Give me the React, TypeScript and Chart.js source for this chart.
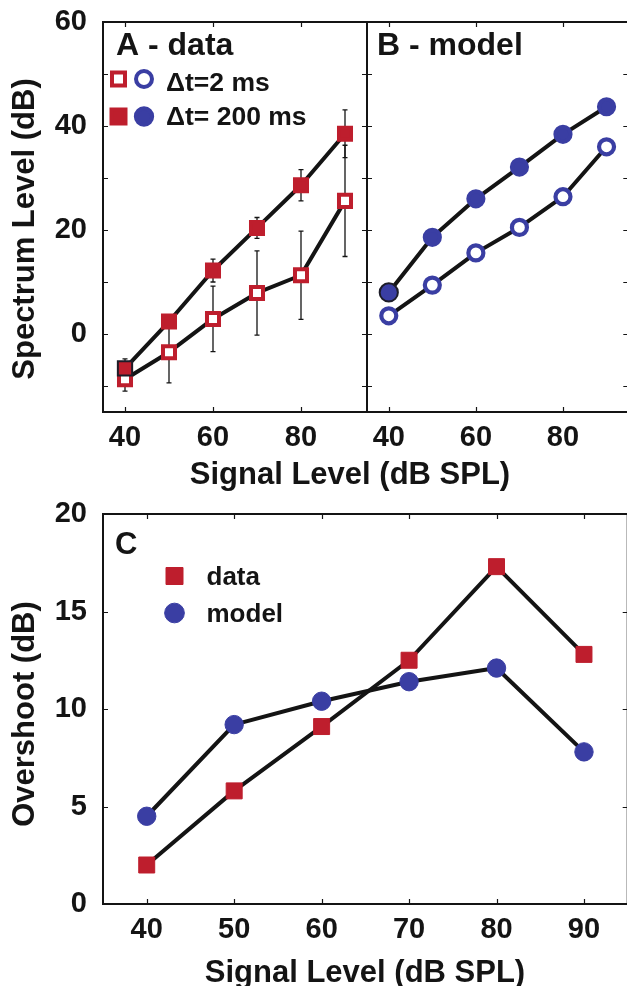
import React, { useEffect, useRef } from 'react';
import { Chart, registerables } from 'chart.js';

Chart.register(...registerables);

// Signal levels (dB SPL) shared by all panels
const levels = [40, 50, 60, 70, 80, 90];

// Panel A: measured spectrum level (dB) with error bars
const dataLong = [-6.6, 2.4, 12.2, 20.4, 28.6, 38.5]; // Δt = 200 ms
const dataLongErr = [1.8, 1.0, 2.2, 2.0, 3.0, 4.6];
const dataShort = [-8.7, -3.5, 2.9, 7.9, 11.3, 25.6]; // Δt = 2 ms
const dataShortErr = [2.3, 5.9, 6.3, 8.1, 8.5, 10.7];

// Panel B: model spectrum level (dB)
const modelLong = [8.0, 18.6, 26.0, 32.1, 38.4, 43.7]; // Δt = 200 ms
const modelShort = [3.5, 9.4, 15.6, 20.5, 26.4, 36.0]; // Δt = 2 ms

// Panel C: overshoot (dB)
const overshootData = [2.0, 5.8, 9.1, 12.5, 17.3, 12.8];
const overshootModel = [4.5, 9.2, 10.4, 11.4, 12.1, 7.8];

// Tick labels and tick marks
const abXLabels = [40, 60, 80];
const abXMarks = [40, 60, 80];
const abYLabels = [0, 20, 40, 60];
const abYMarks = [-10, 0, 10, 20, 30, 40, 50, 60];
const cXLabels = [40, 50, 60, 70, 80, 90];
const cYLabels = [0, 5, 10, 15, 20];

const FAMILY = '"Liberation Sans", Arial, Helvetica, sans-serif';
const INK = '#141414';
const RED = '#BE1E2D';
const BLUE = '#3A3EA3';
const font = (size: number) => `bold ${size}px ${FAMILY}`;

const pts = (ys: number[]) => levels.map((x, i) => ({ x, y: ys[i] }));

type Item =
  | { kind: 'text'; text: string; x: number; y: number; size: number; align?: CanvasTextAlign; rotate?: number }
  | { kind: 'marker'; shape: 'square' | 'circle'; x: number; y: number; size: number; fill: string; stroke: string; lineWidth: number };

// Draws free text and legend symbols on top of a chart
function annotations(items: Item[]) {
  return {
    id: 'annotations',
    afterDraw(chart: any) {
      const ctx: CanvasRenderingContext2D = chart.ctx;
      for (const it of items) {
        ctx.save();
        if (it.kind === 'text') {
          ctx.font = font(it.size);
          ctx.fillStyle = INK;
          ctx.textAlign = it.align || 'left';
          ctx.textBaseline = 'alphabetic';
          ctx.translate(it.x, it.y);
          if (it.rotate) ctx.rotate(it.rotate);
          ctx.fillText(it.text, 0, 0);
        } else {
          ctx.beginPath();
          if (it.shape === 'square') ctx.rect(it.x - it.size / 2, it.y - it.size / 2, it.size, it.size);
          else ctx.arc(it.x, it.y, it.size / 2, 0, Math.PI * 2);
          ctx.fillStyle = it.fill;
          ctx.fill();
          if (it.lineWidth) {
            ctx.lineWidth = it.lineWidth;
            ctx.strokeStyle = it.stroke;
            ctx.stroke();
          }
        }
        ctx.restore();
      }
    },
  };
}

// Box around the plot area with inward tick marks on all four sides
function frame(xMarks: number[], yMarks: number[]) {
  return {
    id: 'frame',
    beforeDatasetsDraw(chart: any) {
      const { ctx, chartArea, scales } = chart;
      const { left, right, top, bottom } = chartArea;
      const len = 5;
      ctx.save();
      ctx.strokeStyle = INK;
      ctx.lineWidth = 1.2;
      ctx.beginPath();
      for (const v of xMarks) {
        const px = Math.round(scales.x.getPixelForValue(v)) + 0.5;
        ctx.moveTo(px, bottom);
        ctx.lineTo(px, bottom - len);
        ctx.moveTo(px, top);
        ctx.lineTo(px, top + len);
      }
      for (const v of yMarks) {
        const py = Math.round(scales.y.getPixelForValue(v)) + 0.5;
        ctx.moveTo(left, py);
        ctx.lineTo(left + len, py);
        ctx.moveTo(right, py);
        ctx.lineTo(right - len, py);
      }
      ctx.stroke();
      ctx.lineWidth = 2;
      ctx.strokeRect(left, top, right - left, bottom - top);
      ctx.restore();
    },
  };
}

// Vertical error bars for datasets carrying an `errors` array
const errorBars = {
  id: 'errorBars',
  beforeDatasetsDraw(chart: any) {
    const { ctx, scales } = chart;
    const cap = 2.5;
    ctx.save();
    ctx.strokeStyle = INK;
    ctx.lineWidth = 1.3;
    chart.data.datasets.forEach((ds: any) => {
      if (!ds.errors) return;
      ds.data.forEach((p: { x: number; y: number }, i: number) => {
        const e = ds.errors[i];
        const px = scales.x.getPixelForValue(p.x);
        const y1 = scales.y.getPixelForValue(p.y + e);
        const y2 = scales.y.getPixelForValue(p.y - e);
        ctx.beginPath();
        ctx.moveTo(px, y1);
        ctx.lineTo(px, y2);
        ctx.moveTo(px - cap, y1);
        ctx.lineTo(px + cap, y1);
        ctx.moveTo(px - cap, y2);
        ctx.lineTo(px + cap, y2);
        ctx.stroke();
      });
    });
    ctx.restore();
  },
};

function axis(min: number, max: number, labels: number[], cross: number, horizontal: boolean, showLabels: boolean) {
  return {
    type: 'linear',
    position: horizontal ? 'bottom' : 'left',
    min,
    max,
    grid: { display: false, drawTicks: false },
    border: { display: false },
    ticks: {
      display: showLabels,
      padding: horizontal ? 9 : 16,
      color: INK,
      autoSkip: false,
      maxRotation: 0,
      font: { family: FAMILY, size: 29, weight: 'bold' },
    },
    afterBuildTicks: (s: any) => {
      s.ticks = labels.map((v) => ({ value: v }));
    },
    afterFit: (s: any) => {
      if (horizontal) s.height = cross;
      else s.width = cross;
      // the plot box is placed by the layout padding alone
      s.paddingTop = 0;
      s.paddingBottom = 0;
      s.paddingLeft = 0;
      s.paddingRight = 0;
    },
  };
}

function series(values: number[], color: string, filled: boolean, shape: 'rect' | 'circle', radius: number, ring: number, outlineFirst: boolean, errors?: number[]) {
  return {
    data: pts(values),
    errors,
    borderColor: INK,
    borderWidth: 4,
    borderJoinStyle: 'round',
    tension: 0,
    fill: false,
    pointStyle: shape,
    pointRadius: (c: any) => (outlineFirst && c.dataIndex === 0 ? radius + 1.6 : radius),
    pointBorderWidth: (c: any) => (outlineFirst && c.dataIndex === 0 ? 2 : ring),
    pointBackgroundColor: filled ? color : '#ffffff',
    pointBorderColor: (c: any) => (outlineFirst && c.dataIndex === 0 ? '#1c1c28' : color),
    clip: false,
  };
}

function baseOptions(scales: any, padding: any) {
  return {
    responsive: false,
    maintainAspectRatio: false,
    animation: false,
    events: [],
    layout: { padding },
    plugins: { legend: { display: false }, tooltip: { enabled: false } },
    scales,
  };
}

export default function App() {
  const aRef = useRef<HTMLCanvasElement>(null);
  const bRef = useRef<HTMLCanvasElement>(null);
  const cRef = useRef<HTMLCanvasElement>(null);

  useEffect(() => {
    const sqR = 8.5;
    const ciR = 7.5;

    const chartA = new Chart(aRef.current as HTMLCanvasElement, {
      type: 'line',
      data: {
        datasets: [
          series(dataLong, RED, true, 'rect', sqR, 4, true, dataLongErr),
          series(dataShort, RED, false, 'rect', sqR, 4, false, dataShortErr),
        ],
      } as any,
      options: baseOptions(
        { x: axis(35, 95, abXLabels, 83, true, true), y: axis(-15, 60, abYLabels, 103, false, true) },
        { left: 0, top: 22, right: 273, bottom: 0 }
      ) as any,
      plugins: [
        frame(abXMarks, abYMarks),
        errorBars,
        annotations([
          { kind: 'text', text: 'Spectrum Level (dB)', x: 33.5, y: 229, size: 31, align: 'center', rotate: -Math.PI / 2 },
          { kind: 'text', text: 'Signal Level (dB SPL)', x: 350, y: 484, size: 31, align: 'center' },
          { kind: 'text', text: 'A - data', x: 116, y: 55, size: 32 },
          { kind: 'marker', shape: 'square', x: 118.5, y: 79, size: 13, fill: '#ffffff', stroke: RED, lineWidth: 4 },
          { kind: 'marker', shape: 'circle', x: 144, y: 79, size: 16, fill: '#ffffff', stroke: BLUE, lineWidth: 4 },
          { kind: 'text', text: 'Δt=2 ms', x: 166, y: 90.5, size: 26.5 },
          { kind: 'marker', shape: 'square', x: 118.5, y: 116.5, size: 14, fill: RED, stroke: RED, lineWidth: 4 },
          { kind: 'marker', shape: 'circle', x: 144, y: 116.5, size: 16.3, fill: BLUE, stroke: BLUE, lineWidth: 4 },
          { kind: 'text', text: 'Δt= 200 ms', x: 166, y: 125, size: 26.5 },
        ]),
      ],
    });

    const chartB = new Chart(bRef.current as HTMLCanvasElement, {
      type: 'line',
      data: {
        datasets: [
          series(modelLong, BLUE, true, 'circle', ciR, 4.2, true),
          series(modelShort, BLUE, false, 'circle', ciR, 4.2, false),
        ],
      } as any,
      options: baseOptions(
        { x: axis(35, 95, abXLabels, 83, true, true), y: axis(-15, 60, [], 30, false, false) },
        { left: 0, top: 22, right: 9, bottom: 0 }
      ) as any,
      plugins: [
        frame(abXMarks, abYMarks),
        annotations([{ kind: 'text', text: 'B - model', x: 40, y: 55, size: 32 }]),
      ],
    });

    const chartC = new Chart(cRef.current as HTMLCanvasElement, {
      type: 'line',
      data: {
        datasets: [
          series(overshootData, RED, true, 'rect', 11.3, 1, false),
          series(overshootModel, BLUE, true, 'circle', 9.2, 1, false),
        ],
      } as any,
      options: baseOptions(
        { x: axis(35, 95, cXLabels, 82, true, true), y: axis(0, 20, cYLabels, 103, false, true) },
        { left: 0, top: 34, right: 9, bottom: 0 }
      ) as any,
      plugins: [
        frame(cXLabels, cYLabels),
        annotations([
          { kind: 'text', text: 'Overshoot (dB)', x: 33.5, y: 234, size: 31, align: 'center', rotate: -Math.PI / 2 },
          { kind: 'text', text: 'Signal Level (dB SPL)', x: 365, y: 502, size: 31, align: 'center' },
          { kind: 'text', text: 'C', x: 115, y: 74, size: 31 },
          { kind: 'marker', shape: 'square', x: 174.5, y: 96, size: 17, fill: RED, stroke: RED, lineWidth: 1 },
          { kind: 'text', text: 'data', x: 206.5, y: 104.5, size: 26 },
          { kind: 'marker', shape: 'circle', x: 174.5, y: 133, size: 19.7, fill: BLUE, stroke: BLUE, lineWidth: 1 },
          { kind: 'text', text: 'model', x: 206.5, y: 141.5, size: 26 },
        ]),
      ],
    });

    return () => {
      chartA.destroy();
      chartB.destroy();
      chartC.destroy();
    };
  }, []);

  const abs = (left: number, top: number, w: number, h: number): React.CSSProperties => ({
    position: 'absolute',
    left,
    top,
    width: w,
    height: h,
  });

  return (
    <div style={{ position: 'absolute', left: 0, top: 0, width: 627, height: 986, overflow: 'hidden', background: '#ffffff' }}>
      <canvas ref={aRef} width={640} height={495} style={abs(0, 0, 640, 495)} />
      <canvas ref={bRef} width={303} height={495} style={abs(337, 0, 303, 495)} />
      <canvas ref={cRef} width={640} height={506} style={abs(0, 480, 640, 506)} />
    </div>
  );
}
